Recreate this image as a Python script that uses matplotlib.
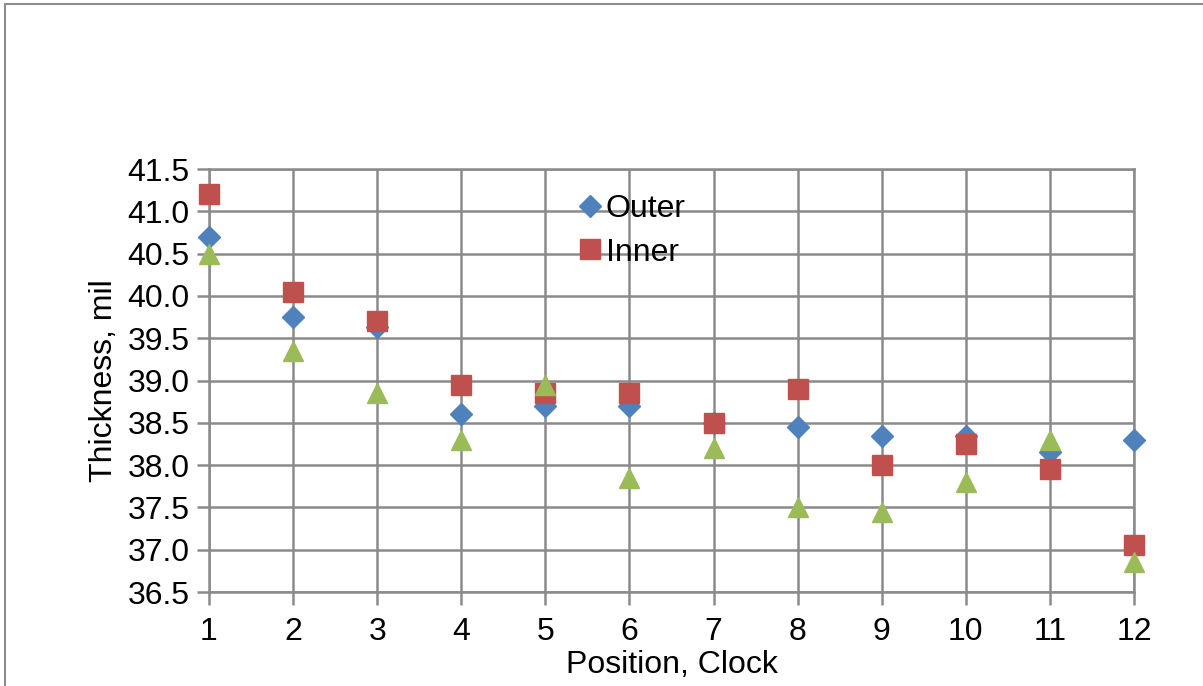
import matplotlib.pyplot as plt
import matplotlib
import numpy as np

# Data.
positions = [1, 2, 3, 4, 5, 6, 7, 8, 9, 10, 11, 12]
outer = [40.7, 39.75, 39.63, 38.6, 38.7, 38.7, 38.5, 38.45, 38.35, 38.35, 38.15, 38.3]
inner = [41.2, 40.05, 39.7, 38.95, 38.85, 38.85, 38.5, 38.9, 38.0, 38.25, 37.95, 37.05]
third = [40.5, 39.35, 38.85, 38.3, 38.95, 37.85, 38.2, 37.5, 37.45, 37.8, 38.3, 36.85]
y_ticks = [36.5, 37.0, 37.5, 38.0, 38.5, 39.0, 39.5, 40.0, 40.5, 41.0, 41.5]

plt.rcParams['font.family'] = ['Liberation Sans', 'DejaVu Sans']

fig = plt.figure(figsize=(12.03, 6.86), dpi=100)
ax = fig.add_axes([0.1737, 0.137, 0.769, 0.6166])

grid_col = '#8a8a8a'
fs = 23

ax.plot(positions, outer, linestyle='none', marker='D', markersize=11,
        color='#4F81BD', label='Outer', zorder=3, clip_on=False)
ax.plot(positions, inner, linestyle='none', marker='s', markersize=15,
        color='#C0504D', label='Inner', zorder=4, clip_on=False)
ax.plot(positions, third, linestyle='none', marker='^', markersize=15,
        color='#9BBB59', label='_nolegend_', zorder=5, clip_on=False)

ax.set_xlim(1, 12)
ax.set_ylim(36.5, 41.5)
ax.set_xticks(positions)
ax.set_yticks(y_ticks)
ax.yaxis.set_major_formatter(matplotlib.ticker.FormatStrFormatter('%.1f'))
ax.tick_params(axis='both', labelsize=fs, color=grid_col, width=1.8, length=9)
ax.tick_params(axis='x', pad=9)
ax.tick_params(axis='y', pad=5)
ax.grid(True, color=grid_col, linewidth=1.8)
ax.set_axisbelow(True)
for s in ax.spines.values():
    s.set_color(grid_col)
    s.set_linewidth(1.8)

ax.set_xlabel('Position, Clock', fontsize=fs, labelpad=2)
ax.set_ylabel('Thickness, mil', fontsize=fs, labelpad=6)

ax.legend(loc='upper left', bbox_to_anchor=(0.477, 0.717), bbox_transform=fig.transFigure,
          frameon=False, fontsize=fs, handletextpad=0.0, handlelength=1.0,
          labelspacing=0.42, borderaxespad=0, borderpad=0)

# Outer chart border (cut off at right and bottom).
fig.patches.append(matplotlib.patches.Rectangle(
    (5 / 1203, -0.1), 1.2, 1.1 - 4 / 686, transform=fig.transFigure,
    fill=False, edgecolor='#8c8c8c', linewidth=1.5))

fig.savefig('out.png', dpi=100)
